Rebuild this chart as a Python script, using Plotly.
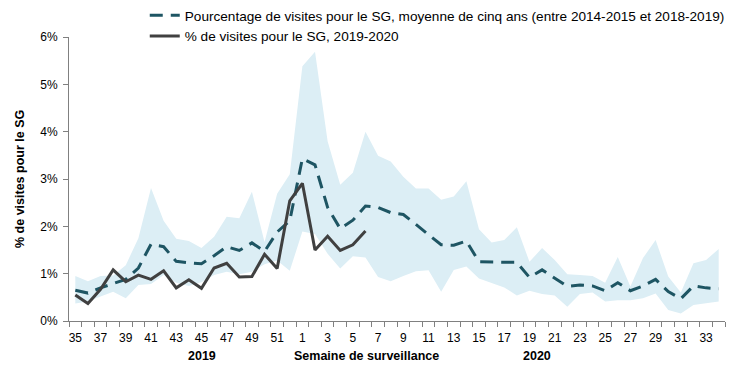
import plotly.graph_objects as go

# Surveillance weeks (2019 weeks 35-52, then 2020 weeks 1-34)
weeks = [35, 36, 37, 38, 39, 40, 41, 42, 43, 44, 45, 46, 47, 48, 49, 50, 51, 52,
         1, 2, 3, 4, 5, 6, 7, 8, 9, 10, 11, 12, 13, 14, 15, 16, 17, 18, 19, 20,
         21, 22, 23, 24, 25, 26, 27, 28, 29, 30, 31, 32, 33, 34]

# Five-year average (%)
avg_5yr = [0.65, 0.59, 0.70, 0.79, 0.88, 1.12, 1.62, 1.57, 1.26, 1.23, 1.21, 1.38,
           1.57, 1.49, 1.65, 1.47, 1.88, 2.12, 3.43, 3.30, 2.40, 1.95, 2.13, 2.43,
           2.40, 2.29, 2.25, 2.04, 1.83, 1.61, 1.60, 1.69, 1.25, 1.24, 1.24, 1.24,
           0.92, 1.08, 0.90, 0.73, 0.76, 0.74, 0.64, 0.81, 0.64, 0.74, 0.88, 0.62,
           0.47, 0.74, 0.70, 0.68]

# Range (min / max of the five seasons) (%)
band_low = [0.37, 0.41, 0.52, 0.62, 0.48, 0.76, 0.78, 0.97, 0.81, 0.74, 0.82, 0.97,
            1.04, 0.99, 1.04, 1.20, 1.28, 1.06, 1.89, 1.84, 1.42, 1.11, 1.37, 1.34,
            0.93, 0.84, 0.95, 1.05, 1.07, 0.62, 1.08, 1.15, 0.90, 0.80, 0.71, 0.54,
            0.64, 0.57, 0.54, 0.30, 0.57, 0.60, 0.41, 0.44, 0.44, 0.48, 0.58, 0.23,
            0.16, 0.34, 0.37, 0.41]
band_high = [0.95, 0.84, 0.95, 0.96, 1.18, 1.75, 2.81, 2.12, 1.74, 1.69, 1.54, 1.78,
             2.20, 2.17, 2.73, 1.67, 2.69, 3.10, 5.38, 5.69, 3.80, 2.88, 3.13, 4.00,
             3.49, 3.37, 3.05, 2.80, 2.80, 2.56, 2.63, 2.95, 1.94, 1.66, 1.71, 1.98,
             1.25, 1.54, 1.29, 0.99, 0.97, 0.95, 0.81, 1.35, 0.73, 1.33, 1.71, 0.94,
             0.60, 1.22, 1.29, 1.52]

# Current season 2019-2020 (%), weeks 35 to 6
current = [0.55, 0.37, 0.67, 1.08, 0.83, 0.97, 0.88, 1.06, 0.70, 0.87, 0.69, 1.12,
           1.22, 0.93, 0.94, 1.41, 1.11, 2.54, 2.91, 1.50, 1.79, 1.49, 1.61, 1.90]

x_idx = list(range(len(weeks)))
tick_idx = x_idx[::2]
tick_text = [str(w) for w in weeks[::2]]

FONT = "Liberation Sans, Arial, sans-serif"
BAND = "#DCEEF5"
DASH_COL = "#1E5563"
CUR_COL = "#404040"

fig = go.Figure()
fig.add_trace(go.Scatter(x=x_idx, y=band_low, mode="lines", line=dict(width=0, color=BAND),
                         showlegend=False, hoverinfo="skip"))
fig.add_trace(go.Scatter(x=x_idx, y=band_high, mode="lines", line=dict(width=0, color=BAND),
                         fill="tonexty", fillcolor=BAND, showlegend=False, hoverinfo="skip"))
fig.add_trace(go.Scatter(x=x_idx, y=avg_5yr, mode="lines",
                         line=dict(color=DASH_COL, width=3, dash="13px,8px"),
                         name="Pourcentage de visites pour le SG, moyenne de cinq ans (entre 2014-2015 et 2018-2019)"))
fig.add_trace(go.Scatter(x=x_idx[:len(current)], y=current, mode="lines",
                         line=dict(color=CUR_COL, width=3),
                         name="% de visites pour le SG, 2019-2020"))

fig.update_layout(
    width=750, height=378,
    margin=dict(l=69, r=25, t=37, b=57, autoexpand=False),
    paper_bgcolor="white", plot_bgcolor="white",
    font=dict(family=FONT, size=12, color="#000000"),
    legend=dict(x=0.193, y=1.012, xref="container", yref="container",
                xanchor="left", yanchor="top", traceorder="normal",
                bgcolor="rgba(0,0,0,0)", font=dict(size=13.6), tracegroupgap=0,
                itemwidth=30),
    xaxis=dict(range=[-0.5, len(weeks) - 0.5], tickmode="array", tickvals=tick_idx,
               ticktext=tick_text, ticks="", showgrid=False, zeroline=False,
               showline=True, linecolor="#808080", linewidth=1,
               tickfont=dict(size=12), ticklabelstandoff=6,
               minor=dict(tickmode="linear", tick0=-0.5, dtick=1, ticks="outside",
                          ticklen=5, tickcolor="#808080", showgrid=False)),
    yaxis=dict(range=[0, 6], tickmode="linear", tick0=0, dtick=1, ticksuffix="%",
               showgrid=False, zeroline=False, showline=True, linecolor="#808080",
               linewidth=1, ticks="outside", ticklen=5, tickcolor="#808080",
               tickfont=dict(size=12), ticklabelstandoff=3),
    showlegend=True,
)

fig.add_annotation(text="<b>% de visites pour le SG</b>", x=-0.0747, y=0.5,
                   xref="paper", yref="paper", textangle=-90, showarrow=False,
                   xanchor="center", yanchor="middle", font=dict(size=12.5, family=FONT))

for txt, px in [("2019", 0.203), ("Semaine de surveillance", 0.454), ("2020", 0.713)]:
    fig.add_annotation(text="<b>" + txt + "</b>", x=px, y=-0.123, xref="paper", yref="paper",
                       showarrow=False, xanchor="center", yanchor="middle",
                       font=dict(size=12.5, family=FONT))

fig.write_html("out.html", config={"displayModeBar": False},
               post_script="document.body.style.margin='0';")
